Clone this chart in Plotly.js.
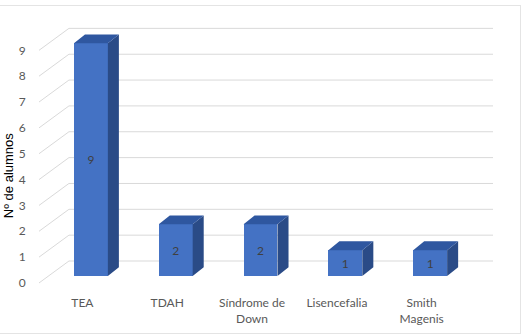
<!DOCTYPE html>
<html>
<head>
<meta charset="utf-8">
<script src="https://cdn.plot.ly/plotly-3.0.1.min.js"></script>
<style>
  html, body { margin: 0; padding: 0; background: #ffffff; }
  #frame { position: absolute; left: -1px; top: 5px; width: 520px; height: 327px; border: 1px solid #e4e4e4; }
  #chart { width: 520px; height: 327px; }
</style>
</head>
<body>
<div id="frame"><div id="chart"></div></div>
<script>
// ---- data ----
const categories = ["TEA", "TDAH", "Síndrome de<br>Down", "Lisencefalia", "Smith<br>Magenis"];
const values = [9, 2, 2, 1, 1];
const yTicks = [0, 1, 2, 3, 4, 5, 6, 7, 8, 9];

// ---- 3D look constants (in axis units) ----
const barW = 0.4;          // front face width
const depthX = 0.13;       // bar depth, horizontal
const depthY = 0.34;       // bar depth, vertical
const wallX = -0.259;      // back wall left edge
const wallY = 0.58;        // back wall vertical shift
const frontY = -0.27;      // front plane vertical shift
const xMin = -0.612, xMax = 4.741;
const yMin = -0.387, yMax = 9.865;

const idx = categories.map((_, i) => i);

// gridlines: back wall + diagonal side wall
const gx = [], gy = [];
yTicks.forEach(v => {
  gx.push(xMin, wallX, xMax, null);
  gy.push(v + frontY, v + wallY, v + wallY, null);
});

// side and top faces
const sx = [], sy = [], tx = [], ty = [];
idx.forEach(i => {
  const v = values[i], l = i - barW / 2, r = i + barW / 2;
  sx.push(r, r + depthX, r + depthX, r, r, null);
  sy.push(0, depthY, v + depthY, v, 0, null);
  tx.push(l, l + depthX, r + depthX, r, l, null);
  ty.push(v, v + depthY, v + depthY, v, v, null);
});

const traces = [
  { type: "scatter", mode: "lines", x: gx, y: gy, xaxis: "x", yaxis: "y",
    line: { color: "#d9d9d9", width: 1 }, hoverinfo: "skip", showlegend: false },
  { type: "scatter", mode: "lines", x: sx, y: sy, xaxis: "x2", yaxis: "y2",
    fill: "toself", fillcolor: "#2a4b87", line: { width: 0, color: "#2a4b87" },
    hoverinfo: "skip", showlegend: false },
  { type: "scatter", mode: "lines", x: tx, y: ty, xaxis: "x2", yaxis: "y2",
    fill: "toself", fillcolor: "#2f57a0", line: { width: 0, color: "#2f57a0" },
    hoverinfo: "skip", showlegend: false },
  { type: "bar", x: idx, y: values, xaxis: "x2", yaxis: "y2", width: barW,
    marker: { color: "#4472c4", line: { width: 0 } },
    text: values.map(String), textposition: "inside", insidetextanchor: "middle",
    textfont: { family: "Lato, Carlito, sans-serif", size: 12, color: "#404040" },
    showlegend: false }
];

const tickFont = { family: "Lato, Carlito, sans-serif", size: 12, color: "#595959" };

const layout = {
  width: 520, height: 327,
  margin: { l: 39, r: 27, t: 15, b: 47 },
  paper_bgcolor: "#ffffff", plot_bgcolor: "rgba(0,0,0,0)",
  showlegend: false,
  bargap: 0,
  xaxis: {
    range: [xMin, xMax], showgrid: false, zeroline: false, showline: false,
    tickmode: "array", tickvals: idx.map(i => i - 0.1), ticktext: categories,
    ticks: "outside", ticklen: 6, tickcolor: "rgba(0,0,0,0)",
    tickfont: tickFont, fixedrange: true
  },
  yaxis: {
    range: [yMin, yMax], showgrid: false, zeroline: false, showline: false,
    tickmode: "array", tickvals: yTicks.map(v => v + frontY), ticktext: yTicks.map(String),
    ticks: "outside", ticklen: 10, tickcolor: "rgba(0,0,0,0)",
    tickfont: tickFont, fixedrange: true
  },
  xaxis2: { range: [xMin, xMax], overlaying: "x", visible: false, fixedrange: true },
  yaxis2: { range: [yMin, yMax], overlaying: "y", visible: false, fixedrange: true },
  annotations: [{
    text: "Nº de alumnos", xref: "paper", yref: "paper",
    x: -0.068, y: 0.415, xanchor: "center", yanchor: "middle",
    textangle: -90, showarrow: false,
    font: { family: "Liberation Sans, Arial, sans-serif", size: 13, color: "#000000" }
  }]
};

Plotly.newPlot("chart", traces, layout, { staticPlot: true, displayModeBar: false });
</script>
</body>
</html>
